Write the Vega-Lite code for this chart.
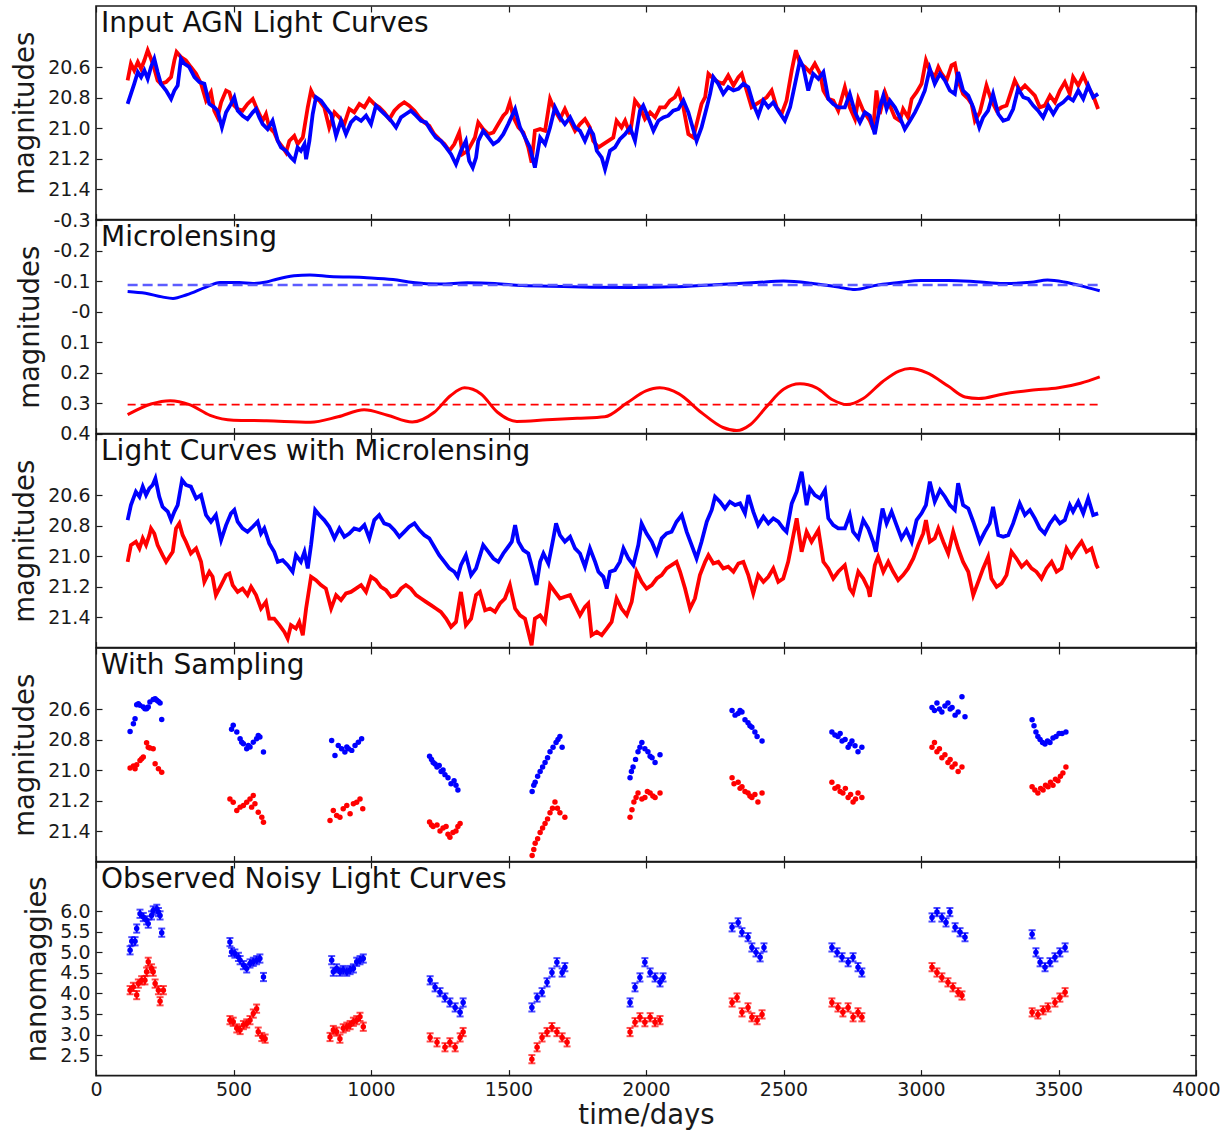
{
  "$schema": "https://vega.github.io/schema/vega-lite/v6.json",
  "background": "white",
  "padding": {"left": 10, "top": 4, "right": 5, "bottom": 5},
  "spacing": 0,
  "bounds": "flush",
  "config": {
    "font": "DejaVu Sans",
    "view": {"stroke": "#1a1a1a", "strokeWidth": 1.6},
    "axis": {
      "grid": false, "domain": false, "tickColor": "#1a1a1a", "tickSize": -6, "tickWidth": 1.2,
      "labelFont": "DejaVu Sans", "labelFontSize": 19, "labelColor": "#1a1a1a",
      "titleFont": "DejaVu Sans", "titleFontSize": 27.5, "titleFontWeight": "normal", "titleColor": "#1a1a1a",
      "labelOverlap": false, "labelFlush": false
    },
    "axisX": {"labelPadding": 11, "titlePadding": 2},
    "axisY": {"labelPadding": 12, "titlePadding": 8}
  },
  "datasets": {
    "agn_red": [
      {"t":115,"mag":20.688},{"t":127,"mag":20.578},{"t":139,"mag":20.622},{"t":152,"mag":20.567},{"t":164,"mag":20.611},{"t":176,"mag":20.556},{"t":188,"mag":20.49},{"t":200,"mag":20.545},{"t":212,"mag":20.611},{"t":224,"mag":20.688},{"t":236,"mag":20.71},{"t":255,"mag":20.699},{"t":273,"mag":20.666},{"t":285,"mag":20.556},{"t":293,"mag":20.501},{"t":309,"mag":20.534},{"t":327,"mag":20.556},{"t":345,"mag":20.6},{"t":364,"mag":20.644},{"t":382,"mag":20.71},{"t":400,"mag":20.82},{"t":418,"mag":20.765},{"t":430,"mag":20.886},{"t":442,"mag":20.93},{"t":455,"mag":20.831},{"t":473,"mag":20.754},{"t":485,"mag":20.765},{"t":497,"mag":20.842},{"t":515,"mag":20.875},{"t":533,"mag":20.886},{"t":551,"mag":20.842},{"t":570,"mag":20.809},{"t":588,"mag":20.886},{"t":606,"mag":20.952},{"t":618,"mag":20.908},{"t":630,"mag":20.996},{"t":648,"mag":21.029},{"t":661,"mag":21.084},{"t":679,"mag":21.127},{"t":691,"mag":21.16},{"t":703,"mag":21.084},{"t":721,"mag":21.051},{"t":733,"mag":21.105},{"t":752,"mag":21.062},{"t":770,"mag":20.864},{"t":782,"mag":20.754},{"t":794,"mag":20.798},{"t":812,"mag":20.82},{"t":830,"mag":20.864},{"t":848,"mag":20.996},{"t":867,"mag":20.897},{"t":885,"mag":20.93},{"t":903,"mag":20.974},{"t":921,"mag":20.875},{"t":939,"mag":20.897},{"t":958,"mag":20.842},{"t":976,"mag":20.864},{"t":994,"mag":20.809},{"t":1012,"mag":20.842},{"t":1030,"mag":20.864},{"t":1048,"mag":20.897},{"t":1067,"mag":20.941},{"t":1085,"mag":20.886},{"t":1103,"mag":20.853},{"t":1121,"mag":20.831},{"t":1139,"mag":20.853},{"t":1158,"mag":20.886},{"t":1176,"mag":20.93},{"t":1194,"mag":20.963},{"t":1212,"mag":20.985},{"t":1230,"mag":21.04},{"t":1248,"mag":21.073},{"t":1267,"mag":21.105},{"t":1285,"mag":21.149},{"t":1303,"mag":21.105},{"t":1321,"mag":21.029},{"t":1333,"mag":21.171},{"t":1352,"mag":21.149},{"t":1378,"mag":21.062},{"t":1390,"mag":20.963},{"t":1408,"mag":21.007},{"t":1427,"mag":21.04},{"t":1445,"mag":21.029},{"t":1463,"mag":20.974},{"t":1481,"mag":20.919},{"t":1493,"mag":20.897},{"t":1505,"mag":20.831},{"t":1518,"mag":20.93},{"t":1536,"mag":20.996},{"t":1554,"mag":21.029},{"t":1572,"mag":21.127},{"t":1584,"mag":21.226},{"t":1596,"mag":21.018},{"t":1615,"mag":21.007},{"t":1633,"mag":21.018},{"t":1651,"mag":20.809},{"t":1669,"mag":20.886},{"t":1687,"mag":20.941},{"t":1705,"mag":20.875},{"t":1724,"mag":20.952},{"t":1742,"mag":21.018},{"t":1760,"mag":20.974},{"t":1778,"mag":20.941},{"t":1796,"mag":20.996},{"t":1808,"mag":21.084},{"t":1827,"mag":21.127},{"t":1845,"mag":21.105},{"t":1863,"mag":21.084},{"t":1881,"mag":21.062},{"t":1893,"mag":20.952},{"t":1911,"mag":20.996},{"t":1924,"mag":20.952},{"t":1942,"mag":21.04},{"t":1960,"mag":20.82},{"t":1978,"mag":20.864},{"t":1996,"mag":20.941},{"t":2015,"mag":20.897},{"t":2033,"mag":20.93},{"t":2051,"mag":20.864},{"t":2069,"mag":20.864},{"t":2087,"mag":20.82},{"t":2105,"mag":20.798},{"t":2118,"mag":20.754},{"t":2136,"mag":20.864},{"t":2154,"mag":21.04},{"t":2172,"mag":21.062},{"t":2184,"mag":20.974},{"t":2202,"mag":20.842},{"t":2215,"mag":20.798},{"t":2227,"mag":20.644},{"t":2245,"mag":20.677},{"t":2263,"mag":20.699},{"t":2281,"mag":20.71},{"t":2299,"mag":20.655},{"t":2318,"mag":20.721},{"t":2336,"mag":20.666},{"t":2348,"mag":20.644},{"t":2366,"mag":20.754},{"t":2384,"mag":20.864},{"t":2402,"mag":20.842},{"t":2421,"mag":20.82},{"t":2439,"mag":20.798},{"t":2457,"mag":20.754},{"t":2475,"mag":20.864},{"t":2493,"mag":20.908},{"t":2511,"mag":20.82},{"t":2530,"mag":20.622},{"t":2545,"mag":20.49},{"t":2560,"mag":20.578},{"t":2578,"mag":20.6},{"t":2596,"mag":20.633},{"t":2614,"mag":20.578},{"t":2633,"mag":20.644},{"t":2645,"mag":20.754},{"t":2663,"mag":20.809},{"t":2681,"mag":20.82},{"t":2699,"mag":20.886},{"t":2723,"mag":20.732},{"t":2741,"mag":20.864},{"t":2760,"mag":20.941},{"t":2772,"mag":20.809},{"t":2790,"mag":20.886},{"t":2814,"mag":20.952},{"t":2826,"mag":21.007},{"t":2838,"mag":20.754},{"t":2850,"mag":20.908},{"t":2869,"mag":20.765},{"t":2887,"mag":20.853},{"t":2905,"mag":20.93},{"t":2923,"mag":20.952},{"t":2935,"mag":20.875},{"t":2953,"mag":20.93},{"t":2966,"mag":20.809},{"t":2984,"mag":20.765},{"t":3002,"mag":20.71},{"t":3018,"mag":20.556},{"t":3032,"mag":20.622},{"t":3050,"mag":20.666},{"t":3063,"mag":20.6},{"t":3075,"mag":20.644},{"t":3093,"mag":20.688},{"t":3111,"mag":20.589},{"t":3123,"mag":20.578},{"t":3135,"mag":20.688},{"t":3153,"mag":20.776},{"t":3172,"mag":20.809},{"t":3184,"mag":20.842},{"t":3196,"mag":20.952},{"t":3214,"mag":20.897},{"t":3238,"mag":20.721},{"t":3256,"mag":20.82},{"t":3275,"mag":20.886},{"t":3293,"mag":20.864},{"t":3311,"mag":20.853},{"t":3323,"mag":20.787},{"t":3341,"mag":20.688},{"t":3360,"mag":20.754},{"t":3378,"mag":20.721},{"t":3396,"mag":20.754},{"t":3414,"mag":20.787},{"t":3432,"mag":20.864},{"t":3450,"mag":20.853},{"t":3469,"mag":20.787},{"t":3487,"mag":20.831},{"t":3505,"mag":20.754},{"t":3523,"mag":20.699},{"t":3541,"mag":20.776},{"t":3553,"mag":20.666},{"t":3572,"mag":20.721},{"t":3590,"mag":20.655},{"t":3608,"mag":20.732},{"t":3626,"mag":20.787},{"t":3644,"mag":20.875}
    ],
    "agn_blue": [
      {"t":115,"mag":20.842},{"t":127,"mag":20.776},{"t":139,"mag":20.71},{"t":152,"mag":20.633},{"t":164,"mag":20.666},{"t":176,"mag":20.622},{"t":188,"mag":20.677},{"t":200,"mag":20.6},{"t":212,"mag":20.545},{"t":224,"mag":20.633},{"t":236,"mag":20.71},{"t":255,"mag":20.754},{"t":273,"mag":20.809},{"t":285,"mag":20.754},{"t":297,"mag":20.721},{"t":309,"mag":20.545},{"t":321,"mag":20.578},{"t":339,"mag":20.6},{"t":358,"mag":20.666},{"t":376,"mag":20.699},{"t":394,"mag":20.71},{"t":412,"mag":20.842},{"t":430,"mag":20.864},{"t":442,"mag":20.886},{"t":458,"mag":20.996},{"t":473,"mag":20.897},{"t":491,"mag":20.842},{"t":503,"mag":20.798},{"t":515,"mag":20.886},{"t":533,"mag":20.919},{"t":551,"mag":20.941},{"t":570,"mag":20.897},{"t":582,"mag":20.875},{"t":594,"mag":20.93},{"t":606,"mag":20.974},{"t":624,"mag":21.007},{"t":642,"mag":20.952},{"t":661,"mag":21.084},{"t":673,"mag":21.127},{"t":691,"mag":21.149},{"t":709,"mag":21.193},{"t":721,"mag":21.215},{"t":733,"mag":21.127},{"t":745,"mag":21.149},{"t":758,"mag":21.105},{"t":764,"mag":21.204},{"t":776,"mag":21.084},{"t":788,"mag":20.908},{"t":800,"mag":20.798},{"t":818,"mag":20.82},{"t":836,"mag":20.864},{"t":855,"mag":20.908},{"t":873,"mag":21.051},{"t":891,"mag":20.952},{"t":909,"mag":21.04},{"t":927,"mag":20.963},{"t":945,"mag":20.93},{"t":964,"mag":20.952},{"t":982,"mag":20.919},{"t":1000,"mag":20.974},{"t":1018,"mag":20.853},{"t":1036,"mag":20.886},{"t":1055,"mag":20.919},{"t":1073,"mag":20.952},{"t":1091,"mag":20.996},{"t":1109,"mag":20.93},{"t":1127,"mag":20.908},{"t":1145,"mag":20.886},{"t":1164,"mag":20.919},{"t":1182,"mag":20.952},{"t":1200,"mag":20.963},{"t":1218,"mag":21.018},{"t":1236,"mag":21.062},{"t":1254,"mag":21.084},{"t":1273,"mag":21.127},{"t":1291,"mag":21.171},{"t":1309,"mag":21.237},{"t":1327,"mag":21.149},{"t":1345,"mag":21.084},{"t":1357,"mag":21.215},{"t":1370,"mag":21.259},{"t":1382,"mag":21.193},{"t":1390,"mag":21.084},{"t":1408,"mag":21.018},{"t":1427,"mag":21.062},{"t":1445,"mag":21.105},{"t":1463,"mag":21.084},{"t":1481,"mag":21.04},{"t":1499,"mag":20.974},{"t":1524,"mag":20.875},{"t":1542,"mag":20.996},{"t":1560,"mag":21.062},{"t":1578,"mag":21.127},{"t":1596,"mag":21.259},{"t":1615,"mag":21.062},{"t":1633,"mag":21.105},{"t":1651,"mag":20.996},{"t":1669,"mag":20.864},{"t":1687,"mag":20.93},{"t":1705,"mag":20.974},{"t":1724,"mag":20.93},{"t":1742,"mag":20.996},{"t":1760,"mag":21.018},{"t":1778,"mag":21.084},{"t":1796,"mag":21.007},{"t":1808,"mag":21.04},{"t":1821,"mag":21.149},{"t":1839,"mag":21.193},{"t":1851,"mag":21.27},{"t":1869,"mag":21.149},{"t":1887,"mag":21.127},{"t":1905,"mag":21.073},{"t":1924,"mag":21.04},{"t":1942,"mag":20.996},{"t":1960,"mag":21.084},{"t":1978,"mag":20.886},{"t":1990,"mag":20.853},{"t":2008,"mag":20.93},{"t":2027,"mag":21.018},{"t":2045,"mag":20.952},{"t":2063,"mag":20.93},{"t":2081,"mag":20.919},{"t":2099,"mag":20.886},{"t":2118,"mag":20.875},{"t":2136,"mag":20.82},{"t":2154,"mag":20.897},{"t":2166,"mag":20.974},{"t":2184,"mag":21.084},{"t":2202,"mag":20.996},{"t":2221,"mag":20.864},{"t":2233,"mag":20.776},{"t":2245,"mag":20.666},{"t":2263,"mag":20.71},{"t":2281,"mag":20.776},{"t":2299,"mag":20.732},{"t":2318,"mag":20.754},{"t":2336,"mag":20.743},{"t":2354,"mag":20.71},{"t":2372,"mag":20.732},{"t":2390,"mag":20.842},{"t":2408,"mag":20.919},{"t":2427,"mag":20.82},{"t":2445,"mag":20.864},{"t":2463,"mag":20.831},{"t":2481,"mag":20.886},{"t":2505,"mag":20.952},{"t":2524,"mag":20.864},{"t":2542,"mag":20.71},{"t":2560,"mag":20.556},{"t":2572,"mag":20.6},{"t":2590,"mag":20.754},{"t":2608,"mag":20.644},{"t":2627,"mag":20.677},{"t":2645,"mag":20.633},{"t":2663,"mag":20.809},{"t":2681,"mag":20.842},{"t":2699,"mag":20.864},{"t":2723,"mag":20.864},{"t":2741,"mag":20.776},{"t":2760,"mag":20.897},{"t":2778,"mag":20.963},{"t":2796,"mag":20.897},{"t":2814,"mag":20.919},{"t":2832,"mag":21.04},{"t":2850,"mag":20.864},{"t":2863,"mag":20.787},{"t":2875,"mag":20.875},{"t":2887,"mag":20.82},{"t":2905,"mag":20.864},{"t":2923,"mag":20.93},{"t":2941,"mag":21.007},{"t":2960,"mag":20.952},{"t":2978,"mag":20.897},{"t":2996,"mag":20.831},{"t":3014,"mag":20.754},{"t":3032,"mag":20.611},{"t":3050,"mag":20.71},{"t":3069,"mag":20.644},{"t":3087,"mag":20.688},{"t":3105,"mag":20.754},{"t":3123,"mag":20.776},{"t":3135,"mag":20.633},{"t":3153,"mag":20.754},{"t":3172,"mag":20.787},{"t":3190,"mag":20.864},{"t":3212,"mag":20.996},{"t":3226,"mag":20.93},{"t":3244,"mag":20.886},{"t":3262,"mag":20.776},{"t":3281,"mag":20.908},{"t":3299,"mag":20.952},{"t":3317,"mag":20.941},{"t":3335,"mag":20.875},{"t":3353,"mag":20.743},{"t":3372,"mag":20.798},{"t":3390,"mag":20.809},{"t":3408,"mag":20.853},{"t":3426,"mag":20.886},{"t":3444,"mag":20.93},{"t":3463,"mag":20.853},{"t":3481,"mag":20.908},{"t":3499,"mag":20.853},{"t":3517,"mag":20.831},{"t":3535,"mag":20.798},{"t":3553,"mag":20.82},{"t":3572,"mag":20.754},{"t":3590,"mag":20.809},{"t":3608,"mag":20.721},{"t":3626,"mag":20.798},{"t":3644,"mag":20.776}
    ],
    "ml_red": [
      {"t":115,"dmag":0.338},{"t":200,"dmag":0.303},{"t":270,"dmag":0.292},{"t":340,"dmag":0.305},{"t":415,"dmag":0.34},{"t":500,"dmag":0.356},{"t":620,"dmag":0.358},{"t":780,"dmag":0.363},{"t":880,"dmag":0.345},{"t":975,"dmag":0.322},{"t":1060,"dmag":0.34},{"t":1150,"dmag":0.362},{"t":1230,"dmag":0.33},{"t":1290,"dmag":0.275},{"t":1340,"dmag":0.25},{"t":1400,"dmag":0.27},{"t":1460,"dmag":0.33},{"t":1530,"dmag":0.36},{"t":1640,"dmag":0.355},{"t":1750,"dmag":0.35},{"t":1850,"dmag":0.345},{"t":1930,"dmag":0.3},{"t":2000,"dmag":0.26},{"t":2050,"dmag":0.25},{"t":2120,"dmag":0.27},{"t":2200,"dmag":0.33},{"t":2280,"dmag":0.38},{"t":2330,"dmag":0.39},{"t":2380,"dmag":0.37},{"t":2440,"dmag":0.31},{"t":2500,"dmag":0.255},{"t":2560,"dmag":0.237},{"t":2620,"dmag":0.25},{"t":2680,"dmag":0.29},{"t":2730,"dmag":0.305},{"t":2790,"dmag":0.285},{"t":2860,"dmag":0.23},{"t":2920,"dmag":0.195},{"t":2960,"dmag":0.187},{"t":3020,"dmag":0.2},{"t":3100,"dmag":0.245},{"t":3160,"dmag":0.28},{"t":3210,"dmag":0.285},{"t":3300,"dmag":0.27},{"t":3400,"dmag":0.258},{"t":3500,"dmag":0.25},{"t":3580,"dmag":0.235},{"t":3650,"dmag":0.214}
    ],
    "ml_blue": [
      {"t":115,"dmag":-0.066},{"t":180,"dmag":-0.06},{"t":240,"dmag":-0.048},{"t":280,"dmag":-0.043},{"t":330,"dmag":-0.055},{"t":400,"dmag":-0.08},{"t":451,"dmag":-0.095},{"t":520,"dmag":-0.095},{"t":571,"dmag":-0.092},{"t":620,"dmag":-0.097},{"t":657,"dmag":-0.106},{"t":720,"dmag":-0.117},{"t":778,"dmag":-0.12},{"t":850,"dmag":-0.115},{"t":985,"dmag":-0.111},{"t":1080,"dmag":-0.105},{"t":1153,"dmag":-0.095},{"t":1250,"dmag":-0.09},{"t":1350,"dmag":-0.094},{"t":1450,"dmag":-0.092},{"t":1550,"dmag":-0.085},{"t":1650,"dmag":-0.083},{"t":1800,"dmag":-0.08},{"t":1950,"dmag":-0.079},{"t":2100,"dmag":-0.081},{"t":2250,"dmag":-0.088},{"t":2400,"dmag":-0.095},{"t":2500,"dmag":-0.1},{"t":2600,"dmag":-0.093},{"t":2700,"dmag":-0.08},{"t":2760,"dmag":-0.072},{"t":2830,"dmag":-0.085},{"t":2920,"dmag":-0.095},{"t":3000,"dmag":-0.102},{"t":3100,"dmag":-0.102},{"t":3200,"dmag":-0.098},{"t":3300,"dmag":-0.092},{"t":3400,"dmag":-0.096},{"t":3460,"dmag":-0.103},{"t":3520,"dmag":-0.097},{"t":3600,"dmag":-0.08},{"t":3650,"dmag":-0.068}
    ],
    "mlc_red": [
      {"t":115,"mag":21.038},{"t":127,"mag":20.928},{"t":145,"mag":20.906},{"t":158,"mag":20.95},{"t":170,"mag":20.884},{"t":182,"mag":20.928},{"t":194,"mag":20.863},{"t":200,"mag":20.819},{"t":212,"mag":20.852},{"t":224,"mag":20.928},{"t":242,"mag":20.994},{"t":255,"mag":21.038},{"t":267,"mag":21.005},{"t":279,"mag":20.972},{"t":291,"mag":20.819},{"t":303,"mag":20.786},{"t":315,"mag":20.863},{"t":327,"mag":20.906},{"t":345,"mag":20.983},{"t":364,"mag":20.95},{"t":382,"mag":21.038},{"t":394,"mag":21.169},{"t":412,"mag":21.103},{"t":424,"mag":21.136},{"t":436,"mag":21.256},{"t":455,"mag":21.19},{"t":473,"mag":21.125},{"t":485,"mag":21.114},{"t":497,"mag":21.19},{"t":515,"mag":21.235},{"t":533,"mag":21.213},{"t":551,"mag":21.256},{"t":564,"mag":21.202},{"t":582,"mag":21.256},{"t":600,"mag":21.344},{"t":618,"mag":21.3},{"t":630,"mag":21.41},{"t":648,"mag":21.41},{"t":667,"mag":21.453},{"t":685,"mag":21.497},{"t":697,"mag":21.541},{"t":709,"mag":21.453},{"t":727,"mag":21.475},{"t":739,"mag":21.432},{"t":752,"mag":21.519},{"t":764,"mag":21.344},{"t":782,"mag":21.136},{"t":800,"mag":21.158},{"t":818,"mag":21.19},{"t":836,"mag":21.213},{"t":855,"mag":21.344},{"t":873,"mag":21.256},{"t":891,"mag":21.289},{"t":909,"mag":21.245},{"t":927,"mag":21.235},{"t":945,"mag":21.213},{"t":964,"mag":21.19},{"t":982,"mag":21.235},{"t":1000,"mag":21.136},{"t":1018,"mag":21.158},{"t":1036,"mag":21.202},{"t":1055,"mag":21.224},{"t":1073,"mag":21.267},{"t":1091,"mag":21.256},{"t":1109,"mag":21.213},{"t":1127,"mag":21.19},{"t":1145,"mag":21.213},{"t":1164,"mag":21.256},{"t":1182,"mag":21.278},{"t":1200,"mag":21.3},{"t":1218,"mag":21.322},{"t":1236,"mag":21.344},{"t":1254,"mag":21.366},{"t":1273,"mag":21.41},{"t":1291,"mag":21.464},{"t":1309,"mag":21.432},{"t":1327,"mag":21.235},{"t":1345,"mag":21.453},{"t":1364,"mag":21.41},{"t":1382,"mag":21.256},{"t":1396,"mag":21.235},{"t":1415,"mag":21.355},{"t":1433,"mag":21.344},{"t":1451,"mag":21.366},{"t":1469,"mag":21.311},{"t":1487,"mag":21.278},{"t":1505,"mag":21.19},{"t":1524,"mag":21.344},{"t":1542,"mag":21.388},{"t":1560,"mag":21.41},{"t":1572,"mag":21.497},{"t":1584,"mag":21.585},{"t":1596,"mag":21.41},{"t":1615,"mag":21.388},{"t":1633,"mag":21.432},{"t":1651,"mag":21.19},{"t":1669,"mag":21.235},{"t":1687,"mag":21.278},{"t":1705,"mag":21.267},{"t":1724,"mag":21.256},{"t":1742,"mag":21.322},{"t":1760,"mag":21.388},{"t":1778,"mag":21.333},{"t":1790,"mag":21.311},{"t":1802,"mag":21.519},{"t":1821,"mag":21.497},{"t":1839,"mag":21.519},{"t":1857,"mag":21.475},{"t":1875,"mag":21.432},{"t":1893,"mag":21.278},{"t":1911,"mag":21.344},{"t":1930,"mag":21.388},{"t":1948,"mag":21.3},{"t":1966,"mag":21.103},{"t":1984,"mag":21.169},{"t":2002,"mag":21.213},{"t":2021,"mag":21.19},{"t":2039,"mag":21.147},{"t":2057,"mag":21.125},{"t":2075,"mag":21.081},{"t":2093,"mag":21.06},{"t":2111,"mag":21.038},{"t":2124,"mag":21.103},{"t":2142,"mag":21.213},{"t":2160,"mag":21.344},{"t":2178,"mag":21.278},{"t":2196,"mag":21.125},{"t":2215,"mag":21.038},{"t":2227,"mag":20.994},{"t":2245,"mag":21.049},{"t":2263,"mag":21.038},{"t":2281,"mag":21.081},{"t":2299,"mag":21.07},{"t":2318,"mag":21.103},{"t":2336,"mag":21.049},{"t":2354,"mag":21.038},{"t":2372,"mag":21.125},{"t":2390,"mag":21.245},{"t":2408,"mag":21.125},{"t":2427,"mag":21.169},{"t":2445,"mag":21.136},{"t":2463,"mag":21.081},{"t":2481,"mag":21.169},{"t":2499,"mag":21.147},{"t":2517,"mag":21.038},{"t":2536,"mag":20.863},{"t":2548,"mag":20.753},{"t":2566,"mag":20.972},{"t":2584,"mag":20.841},{"t":2602,"mag":20.906},{"t":2627,"mag":20.83},{"t":2645,"mag":21.038},{"t":2663,"mag":21.081},{"t":2681,"mag":21.147},{"t":2699,"mag":21.103},{"t":2723,"mag":21.06},{"t":2741,"mag":21.213},{"t":2753,"mag":21.245},{"t":2772,"mag":21.103},{"t":2790,"mag":21.147},{"t":2808,"mag":21.213},{"t":2814,"mag":21.267},{"t":2832,"mag":21.06},{"t":2844,"mag":21.005},{"t":2863,"mag":21.103},{"t":2881,"mag":21.038},{"t":2899,"mag":21.103},{"t":2917,"mag":21.158},{"t":2935,"mag":21.125},{"t":2953,"mag":21.081},{"t":2972,"mag":21.016},{"t":2990,"mag":20.928},{"t":3008,"mag":20.852},{"t":3018,"mag":20.764},{"t":3032,"mag":20.906},{"t":3050,"mag":20.884},{"t":3063,"mag":20.819},{"t":3081,"mag":20.906},{"t":3099,"mag":20.983},{"t":3117,"mag":20.841},{"t":3135,"mag":20.95},{"t":3153,"mag":21.038},{"t":3172,"mag":21.103},{"t":3190,"mag":21.256},{"t":3208,"mag":21.169},{"t":3226,"mag":21.081},{"t":3244,"mag":21.005},{"t":3256,"mag":21.147},{"t":3275,"mag":21.202},{"t":3293,"mag":21.18},{"t":3311,"mag":21.125},{"t":3329,"mag":20.972},{"t":3347,"mag":21.016},{"t":3366,"mag":21.07},{"t":3384,"mag":21.038},{"t":3402,"mag":21.081},{"t":3420,"mag":21.103},{"t":3438,"mag":21.147},{"t":3456,"mag":21.081},{"t":3475,"mag":21.038},{"t":3493,"mag":21.103},{"t":3511,"mag":21.081},{"t":3529,"mag":20.95},{"t":3547,"mag":21.005},{"t":3566,"mag":20.95},{"t":3584,"mag":20.906},{"t":3602,"mag":20.972},{"t":3620,"mag":20.95},{"t":3638,"mag":21.06},{"t":3644,"mag":21.081}
    ],
    "mlc_blue": [
      {"t":115,"mag":20.764},{"t":127,"mag":20.666},{"t":145,"mag":20.578},{"t":158,"mag":20.611},{"t":170,"mag":20.545},{"t":182,"mag":20.6},{"t":194,"mag":20.556},{"t":206,"mag":20.534},{"t":216,"mag":20.491},{"t":230,"mag":20.611},{"t":242,"mag":20.677},{"t":261,"mag":20.709},{"t":273,"mag":20.764},{"t":285,"mag":20.709},{"t":297,"mag":20.666},{"t":313,"mag":20.502},{"t":327,"mag":20.534},{"t":345,"mag":20.545},{"t":364,"mag":20.622},{"t":382,"mag":20.6},{"t":400,"mag":20.731},{"t":418,"mag":20.775},{"t":436,"mag":20.731},{"t":455,"mag":20.895},{"t":473,"mag":20.797},{"t":491,"mag":20.72},{"t":503,"mag":20.698},{"t":515,"mag":20.775},{"t":533,"mag":20.819},{"t":551,"mag":20.841},{"t":570,"mag":20.808},{"t":588,"mag":20.775},{"t":600,"mag":20.852},{"t":612,"mag":20.819},{"t":630,"mag":20.917},{"t":648,"mag":20.972},{"t":661,"mag":21.038},{"t":679,"mag":21.027},{"t":697,"mag":21.06},{"t":715,"mag":21.103},{"t":727,"mag":20.994},{"t":745,"mag":21.038},{"t":758,"mag":20.972},{"t":770,"mag":21.081},{"t":782,"mag":20.928},{"t":797,"mag":20.698},{"t":812,"mag":20.731},{"t":830,"mag":20.764},{"t":848,"mag":20.808},{"t":867,"mag":20.884},{"t":885,"mag":20.819},{"t":903,"mag":20.874},{"t":921,"mag":20.852},{"t":939,"mag":20.819},{"t":958,"mag":20.83},{"t":976,"mag":20.797},{"t":994,"mag":20.884},{"t":1012,"mag":20.764},{"t":1030,"mag":20.731},{"t":1048,"mag":20.786},{"t":1067,"mag":20.797},{"t":1085,"mag":20.83},{"t":1103,"mag":20.874},{"t":1121,"mag":20.841},{"t":1139,"mag":20.808},{"t":1158,"mag":20.786},{"t":1176,"mag":20.83},{"t":1194,"mag":20.863},{"t":1212,"mag":20.884},{"t":1230,"mag":20.939},{"t":1248,"mag":20.994},{"t":1267,"mag":21.038},{"t":1285,"mag":21.081},{"t":1303,"mag":21.103},{"t":1315,"mag":21.136},{"t":1327,"mag":21.06},{"t":1345,"mag":20.994},{"t":1364,"mag":21.125},{"t":1382,"mag":21.081},{"t":1408,"mag":20.928},{"t":1427,"mag":20.972},{"t":1445,"mag":21.016},{"t":1463,"mag":21.038},{"t":1481,"mag":20.983},{"t":1499,"mag":20.939},{"t":1512,"mag":20.906},{"t":1524,"mag":20.797},{"t":1536,"mag":20.906},{"t":1554,"mag":20.961},{"t":1572,"mag":20.983},{"t":1590,"mag":21.103},{"t":1602,"mag":21.19},{"t":1615,"mag":21.038},{"t":1627,"mag":20.983},{"t":1645,"mag":21.049},{"t":1663,"mag":20.884},{"t":1673,"mag":20.786},{"t":1687,"mag":20.863},{"t":1705,"mag":20.906},{"t":1724,"mag":20.874},{"t":1742,"mag":20.95},{"t":1760,"mag":20.983},{"t":1778,"mag":21.07},{"t":1796,"mag":20.95},{"t":1815,"mag":21.038},{"t":1827,"mag":21.103},{"t":1845,"mag":21.136},{"t":1857,"mag":21.213},{"t":1869,"mag":21.103},{"t":1887,"mag":21.092},{"t":1905,"mag":21.038},{"t":1918,"mag":20.95},{"t":1936,"mag":21.016},{"t":1954,"mag":21.06},{"t":1972,"mag":20.928},{"t":1984,"mag":20.786},{"t":2002,"mag":20.852},{"t":2021,"mag":20.906},{"t":2039,"mag":20.983},{"t":2057,"mag":20.884},{"t":2075,"mag":20.852},{"t":2093,"mag":20.841},{"t":2111,"mag":20.775},{"t":2130,"mag":20.731},{"t":2148,"mag":20.841},{"t":2166,"mag":20.928},{"t":2184,"mag":21.016},{"t":2202,"mag":20.906},{"t":2221,"mag":20.775},{"t":2239,"mag":20.698},{"t":2251,"mag":20.611},{"t":2269,"mag":20.644},{"t":2287,"mag":20.688},{"t":2305,"mag":20.644},{"t":2324,"mag":20.666},{"t":2342,"mag":20.655},{"t":2360,"mag":20.72},{"t":2372,"mag":20.6},{"t":2390,"mag":20.709},{"t":2408,"mag":20.797},{"t":2427,"mag":20.742},{"t":2445,"mag":20.786},{"t":2463,"mag":20.753},{"t":2481,"mag":20.775},{"t":2499,"mag":20.819},{"t":2511,"mag":20.841},{"t":2530,"mag":20.655},{"t":2548,"mag":20.578},{"t":2566,"mag":20.447},{"t":2584,"mag":20.666},{"t":2596,"mag":20.556},{"t":2614,"mag":20.6},{"t":2633,"mag":20.622},{"t":2651,"mag":20.567},{"t":2663,"mag":20.753},{"t":2681,"mag":20.797},{"t":2699,"mag":20.819},{"t":2723,"mag":20.819},{"t":2741,"mag":20.731},{"t":2753,"mag":20.841},{"t":2772,"mag":20.884},{"t":2790,"mag":20.764},{"t":2808,"mag":20.819},{"t":2826,"mag":20.906},{"t":2836,"mag":20.972},{"t":2850,"mag":20.797},{"t":2860,"mag":20.688},{"t":2875,"mag":20.786},{"t":2893,"mag":20.709},{"t":2911,"mag":20.797},{"t":2929,"mag":20.884},{"t":2947,"mag":20.83},{"t":2966,"mag":20.906},{"t":2984,"mag":20.764},{"t":3002,"mag":20.72},{"t":3018,"mag":20.666},{"t":3032,"mag":20.512},{"t":3050,"mag":20.644},{"t":3069,"mag":20.567},{"t":3087,"mag":20.611},{"t":3105,"mag":20.666},{"t":3123,"mag":20.698},{"t":3135,"mag":20.523},{"t":3153,"mag":20.666},{"t":3172,"mag":20.688},{"t":3190,"mag":20.775},{"t":3214,"mag":20.906},{"t":3232,"mag":20.841},{"t":3250,"mag":20.786},{"t":3262,"mag":20.677},{"t":3281,"mag":20.863},{"t":3299,"mag":20.874},{"t":3317,"mag":20.863},{"t":3335,"mag":20.786},{"t":3359,"mag":20.655},{"t":3378,"mag":20.731},{"t":3396,"mag":20.698},{"t":3414,"mag":20.753},{"t":3432,"mag":20.819},{"t":3450,"mag":20.852},{"t":3469,"mag":20.786},{"t":3487,"mag":20.742},{"t":3505,"mag":20.786},{"t":3523,"mag":20.764},{"t":3541,"mag":20.666},{"t":3553,"mag":20.709},{"t":3572,"mag":20.644},{"t":3590,"mag":20.72},{"t":3608,"mag":20.622},{"t":3626,"mag":20.731},{"t":3644,"mag":20.72}
    ],
    "samp_red": [
      {"t":124,"mag":20.987},{"t":136,"mag":20.974},{"t":142,"mag":20.992},{"t":148,"mag":20.965},{"t":160,"mag":20.937},{"t":166,"mag":20.926},{"t":172,"mag":20.915},{"t":184,"mag":20.821},{"t":190,"mag":20.85},{"t":196,"mag":20.856},{"t":208,"mag":20.86},{"t":215,"mag":20.959},{"t":227,"mag":20.992},{"t":239,"mag":21.014},
      {"t":487,"mag":21.189},{"t":499,"mag":21.211},{"t":512,"mag":21.265},{"t":524,"mag":21.243},{"t":536,"mag":21.232},{"t":548,"mag":21.211},{"t":560,"mag":21.189},{"t":566,"mag":21.243},{"t":572,"mag":21.167},{"t":578,"mag":21.221},{"t":590,"mag":21.276},{"t":603,"mag":21.309},{"t":609,"mag":21.342},
      {"t":851,"mag":21.331},{"t":863,"mag":21.265},{"t":875,"mag":21.298},{"t":887,"mag":21.309},{"t":899,"mag":21.254},{"t":912,"mag":21.232},{"t":924,"mag":21.287},{"t":936,"mag":21.221},{"t":948,"mag":21.211},{"t":960,"mag":21.189},{"t":970,"mag":21.254},
      {"t":1213,"mag":21.34},{"t":1220,"mag":21.36},{"t":1226,"mag":21.37},{"t":1240,"mag":21.36},{"t":1251,"mag":21.4},{"t":1262,"mag":21.38},{"t":1273,"mag":21.37},{"t":1280,"mag":21.42},{"t":1287,"mag":21.44},{"t":1298,"mag":21.41},{"t":1309,"mag":21.4},{"t":1316,"mag":21.37},{"t":1324,"mag":21.35},
      {"t":1586,"mag":21.56},{"t":1592,"mag":21.52},{"t":1597,"mag":21.48},{"t":1606,"mag":21.45},{"t":1615,"mag":21.41},{"t":1624,"mag":21.38},{"t":1633,"mag":21.35},{"t":1642,"mag":21.32},{"t":1651,"mag":21.28},{"t":1660,"mag":21.25},{"t":1669,"mag":21.21},{"t":1678,"mag":21.25},{"t":1687,"mag":21.28},{"t":1705,"mag":21.31},
      {"t":1942,"mag":21.31},{"t":1949,"mag":21.26},{"t":1956,"mag":21.21},{"t":1964,"mag":21.18},{"t":1971,"mag":21.15},{"t":1985,"mag":21.19},{"t":1996,"mag":21.18},{"t":2005,"mag":21.14},{"t":2015,"mag":21.15},{"t":2025,"mag":21.17},{"t":2033,"mag":21.18},{"t":2051,"mag":21.15},
      {"t":2313,"mag":21.05},{"t":2320,"mag":21.09},{"t":2335,"mag":21.08},{"t":2342,"mag":21.12},{"t":2349,"mag":21.11},{"t":2360,"mag":21.14},{"t":2371,"mag":21.15},{"t":2378,"mag":21.17},{"t":2385,"mag":21.18},{"t":2396,"mag":21.16},{"t":2407,"mag":21.21},{"t":2422,"mag":21.15},
      {"t":2676,"mag":21.08},{"t":2687,"mag":21.12},{"t":2698,"mag":21.11},{"t":2706,"mag":21.14},{"t":2716,"mag":21.15},{"t":2725,"mag":21.12},{"t":2735,"mag":21.18},{"t":2744,"mag":21.16},{"t":2753,"mag":21.21},{"t":2762,"mag":21.19},{"t":2771,"mag":21.15},{"t":2785,"mag":21.18},
      {"t":3040,"mag":20.85},{"t":3049,"mag":20.82},{"t":3058,"mag":20.88},{"t":3067,"mag":20.86},{"t":3076,"mag":20.92},{"t":3087,"mag":20.9},{"t":3098,"mag":20.95},{"t":3106,"mag":20.93},{"t":3113,"mag":20.98},{"t":3124,"mag":20.96},{"t":3135,"mag":21.01},{"t":3149,"mag":20.98},
      {"t":3404,"mag":21.11},{"t":3414,"mag":21.13},{"t":3425,"mag":21.15},{"t":3435,"mag":21.12},{"t":3444,"mag":21.13},{"t":3453,"mag":21.1},{"t":3462,"mag":21.11},{"t":3471,"mag":21.08},{"t":3480,"mag":21.1},{"t":3489,"mag":21.06},{"t":3498,"mag":21.07},{"t":3507,"mag":21.04},{"t":3516,"mag":21.02},{"t":3527,"mag":20.98}
    ],
    "samp_blue": [
      {"t":124,"mag":20.747},{"t":136,"mag":20.696},{"t":142,"mag":20.663},{"t":148,"mag":20.572},{"t":154,"mag":20.565},{"t":160,"mag":20.576},{"t":172,"mag":20.587},{"t":178,"mag":20.598},{"t":184,"mag":20.598},{"t":190,"mag":20.587},{"t":196,"mag":20.554},{"t":208,"mag":20.537},{"t":215,"mag":20.532},{"t":221,"mag":20.543},{"t":227,"mag":20.55},{"t":233,"mag":20.561},{"t":239,"mag":20.668},
      {"t":493,"mag":20.733},{"t":499,"mag":20.707},{"t":512,"mag":20.751},{"t":524,"mag":20.795},{"t":530,"mag":20.817},{"t":536,"mag":20.828},{"t":548,"mag":20.86},{"t":554,"mag":20.839},{"t":560,"mag":20.849},{"t":572,"mag":20.817},{"t":584,"mag":20.795},{"t":590,"mag":20.773},{"t":596,"mag":20.784},{"t":609,"mag":20.882},
      {"t":857,"mag":20.806},{"t":869,"mag":20.904},{"t":881,"mag":20.839},{"t":893,"mag":20.86},{"t":905,"mag":20.882},{"t":912,"mag":20.849},{"t":918,"mag":20.86},{"t":930,"mag":20.871},{"t":942,"mag":20.839},{"t":954,"mag":20.817},{"t":966,"mag":20.795},
      {"t":1213,"mag":20.91},{"t":1220,"mag":20.93},{"t":1226,"mag":20.95},{"t":1233,"mag":20.96},{"t":1240,"mag":20.98},{"t":1248,"mag":20.97},{"t":1255,"mag":21.01},{"t":1262,"mag":21.0},{"t":1269,"mag":21.03},{"t":1280,"mag":21.05},{"t":1291,"mag":21.09},{"t":1302,"mag":21.07},{"t":1309,"mag":21.1},{"t":1316,"mag":21.13},
      {"t":1586,"mag":21.14},{"t":1592,"mag":21.1},{"t":1597,"mag":21.08},{"t":1606,"mag":21.04},{"t":1615,"mag":21.01},{"t":1624,"mag":20.98},{"t":1633,"mag":20.95},{"t":1642,"mag":20.92},{"t":1651,"mag":20.88},{"t":1662,"mag":20.85},{"t":1673,"mag":20.82},{"t":1680,"mag":20.8},{"t":1687,"mag":20.78},{"t":1695,"mag":20.85},
      {"t":1942,"mag":21.05},{"t":1947,"mag":21.01},{"t":1953,"mag":20.98},{"t":1962,"mag":20.93},{"t":1971,"mag":20.88},{"t":1978,"mag":20.85},{"t":1985,"mag":20.82},{"t":1996,"mag":20.86},{"t":2007,"mag":20.88},{"t":2015,"mag":20.91},{"t":2022,"mag":20.92},{"t":2033,"mag":20.95},{"t":2051,"mag":20.9},
      {"t":2313,"mag":20.61},{"t":2324,"mag":20.64},{"t":2335,"mag":20.63},{"t":2342,"mag":20.61},{"t":2349,"mag":20.62},{"t":2360,"mag":20.67},{"t":2371,"mag":20.69},{"t":2378,"mag":20.71},{"t":2385,"mag":20.72},{"t":2396,"mag":20.75},{"t":2404,"mag":20.78},{"t":2422,"mag":20.81},
      {"t":2676,"mag":20.75},{"t":2687,"mag":20.77},{"t":2698,"mag":20.78},{"t":2706,"mag":20.76},{"t":2713,"mag":20.81},{"t":2724,"mag":20.8},{"t":2735,"mag":20.85},{"t":2742,"mag":20.83},{"t":2749,"mag":20.81},{"t":2760,"mag":20.84},{"t":2771,"mag":20.88},{"t":2785,"mag":20.85},
      {"t":3040,"mag":20.59},{"t":3049,"mag":20.61},{"t":3058,"mag":20.56},{"t":3067,"mag":20.6},{"t":3076,"mag":20.62},{"t":3087,"mag":20.58},{"t":3098,"mag":20.56},{"t":3106,"mag":20.6},{"t":3113,"mag":20.59},{"t":3124,"mag":20.64},{"t":3135,"mag":20.62},{"t":3149,"mag":20.52},{"t":3160,"mag":20.65},
      {"t":3404,"mag":20.67},{"t":3411,"mag":20.71},{"t":3418,"mag":20.75},{"t":3425,"mag":20.78},{"t":3433,"mag":20.8},{"t":3442,"mag":20.82},{"t":3451,"mag":20.83},{"t":3460,"mag":20.81},{"t":3469,"mag":20.82},{"t":3480,"mag":20.79},{"t":3491,"mag":20.78},{"t":3502,"mag":20.76},{"t":3513,"mag":20.76},{"t":3527,"mag":20.75}
    ],
    "obs_red": [
      {"t":124,"flux":4.08,"err":0.1},{"t":136,"flux":4.16,"err":0.1},{"t":148,"flux":3.96,"err":0.1},{"t":154,"flux":4.24,"err":0.1},{"t":166,"flux":4.32,"err":0.1},{"t":178,"flux":4.32,"err":0.1},{"t":184,"flux":4.53,"err":0.1},{"t":190,"flux":4.77,"err":0.1},{"t":202,"flux":4.61,"err":0.1},{"t":208,"flux":4.53,"err":0.1},{"t":215,"flux":4.24,"err":0.1},{"t":227,"flux":4.08,"err":0.1},{"t":233,"flux":3.81,"err":0.1},{"t":245,"flux":4.08,"err":0.1},
      {"t":487,"flux":3.35,"err":0.1},{"t":499,"flux":3.31,"err":0.1},{"t":512,"flux":3.15,"err":0.1},{"t":524,"flux":3.11,"err":0.1},{"t":536,"flux":3.23,"err":0.1},{"t":548,"flux":3.27,"err":0.1},{"t":560,"flux":3.35,"err":0.1},{"t":572,"flux":3.51,"err":0.1},{"t":584,"flux":3.63,"err":0.1},{"t":590,"flux":3.07,"err":0.1},{"t":603,"flux":2.94,"err":0.1},{"t":615,"flux":2.9,"err":0.1},
      {"t":851,"flux":2.94,"err":0.1},{"t":863,"flux":3.11,"err":0.1},{"t":875,"flux":3.07,"err":0.1},{"t":887,"flux":2.9,"err":0.1},{"t":899,"flux":3.15,"err":0.1},{"t":912,"flux":3.19,"err":0.1},{"t":924,"flux":3.23,"err":0.1},{"t":936,"flux":3.31,"err":0.1},{"t":948,"flux":3.35,"err":0.1},{"t":960,"flux":3.43,"err":0.1},{"t":972,"flux":3.19,"err":0.1},
      {"t":1215,"flux":2.93,"err":0.1},{"t":1240,"flux":2.81,"err":0.1},{"t":1269,"flux":2.69,"err":0.1},{"t":1287,"flux":2.81,"err":0.1},{"t":1306,"flux":2.69,"err":0.1},{"t":1324,"flux":2.93,"err":0.1},{"t":1335,"flux":3.06,"err":0.1},
      {"t":1585,"flux":2.4,"err":0.1},{"t":1604,"flux":2.69,"err":0.1},{"t":1622,"flux":2.93,"err":0.1},{"t":1640,"flux":3.06,"err":0.1},{"t":1658,"flux":3.18,"err":0.1},{"t":1676,"flux":3.06,"err":0.1},{"t":1695,"flux":2.93,"err":0.1},{"t":1713,"flux":2.81,"err":0.1},
      {"t":1942,"flux":3.06,"err":0.1},{"t":1960,"flux":3.3,"err":0.1},{"t":1978,"flux":3.42,"err":0.1},{"t":1996,"flux":3.3,"err":0.1},{"t":2015,"flux":3.42,"err":0.1},{"t":2033,"flux":3.3,"err":0.1},{"t":2051,"flux":3.35,"err":0.1},
      {"t":2313,"flux":3.78,"err":0.1},{"t":2331,"flux":3.9,"err":0.1},{"t":2349,"flux":3.54,"err":0.1},{"t":2371,"flux":3.66,"err":0.1},{"t":2385,"flux":3.42,"err":0.1},{"t":2404,"flux":3.35,"err":0.1},{"t":2422,"flux":3.49,"err":0.1},
      {"t":2676,"flux":3.78,"err":0.1},{"t":2698,"flux":3.66,"err":0.1},{"t":2716,"flux":3.54,"err":0.1},{"t":2735,"flux":3.66,"err":0.1},{"t":2753,"flux":3.42,"err":0.1},{"t":2771,"flux":3.54,"err":0.1},{"t":2785,"flux":3.42,"err":0.1},
      {"t":3040,"flux":4.64,"err":0.1},{"t":3058,"flux":4.51,"err":0.1},{"t":3076,"flux":4.39,"err":0.1},{"t":3098,"flux":4.27,"err":0.1},{"t":3116,"flux":4.15,"err":0.1},{"t":3135,"flux":4.03,"err":0.1},{"t":3149,"flux":3.95,"err":0.1},
      {"t":3404,"flux":3.54,"err":0.1},{"t":3425,"flux":3.49,"err":0.1},{"t":3444,"flux":3.59,"err":0.1},{"t":3462,"flux":3.66,"err":0.1},{"t":3487,"flux":3.78,"err":0.1},{"t":3505,"flux":3.9,"err":0.1},{"t":3524,"flux":4.03,"err":0.1}
    ],
    "obs_blue": [
      {"t":124,"flux":5.05,"err":0.1},{"t":130,"flux":5.27,"err":0.1},{"t":142,"flux":5.27,"err":0.1},{"t":148,"flux":5.58,"err":0.1},{"t":160,"flux":5.94,"err":0.1},{"t":172,"flux":5.86,"err":0.1},{"t":184,"flux":5.78,"err":0.1},{"t":190,"flux":5.7,"err":0.1},{"t":202,"flux":5.9,"err":0.1},{"t":208,"flux":6.02,"err":0.1},{"t":221,"flux":6.06,"err":0.1},{"t":227,"flux":5.98,"err":0.1},{"t":233,"flux":5.9,"err":0.1},{"t":239,"flux":5.48,"err":0.1},
      {"t":487,"flux":5.25,"err":0.1},{"t":493,"flux":5.01,"err":0.1},{"t":505,"flux":4.97,"err":0.1},{"t":518,"flux":4.89,"err":0.1},{"t":524,"flux":4.81,"err":0.1},{"t":536,"flux":4.69,"err":0.1},{"t":548,"flux":4.61,"err":0.1},{"t":560,"flux":4.73,"err":0.1},{"t":572,"flux":4.77,"err":0.1},{"t":584,"flux":4.81,"err":0.1},{"t":596,"flux":4.85,"err":0.1},{"t":609,"flux":4.4,"err":0.1},
      {"t":857,"flux":4.81,"err":0.1},{"t":863,"flux":4.53,"err":0.1},{"t":875,"flux":4.61,"err":0.1},{"t":887,"flux":4.53,"err":0.1},{"t":899,"flux":4.57,"err":0.1},{"t":912,"flux":4.53,"err":0.1},{"t":924,"flux":4.57,"err":0.1},{"t":936,"flux":4.61,"err":0.1},{"t":948,"flux":4.77,"err":0.1},{"t":960,"flux":4.81,"err":0.1},{"t":972,"flux":4.85,"err":0.1},
      {"t":1215,"flux":4.32,"err":0.1},{"t":1233,"flux":4.15,"err":0.1},{"t":1251,"flux":4.03,"err":0.1},{"t":1269,"flux":3.9,"err":0.1},{"t":1287,"flux":3.78,"err":0.1},{"t":1306,"flux":3.66,"err":0.1},{"t":1324,"flux":3.54,"err":0.1},{"t":1335,"flux":3.78,"err":0.1},
      {"t":1585,"flux":3.66,"err":0.1},{"t":1604,"flux":3.9,"err":0.1},{"t":1622,"flux":4.03,"err":0.1},{"t":1640,"flux":4.27,"err":0.1},{"t":1658,"flux":4.51,"err":0.1},{"t":1676,"flux":4.76,"err":0.1},{"t":1695,"flux":4.51,"err":0.1},{"t":1705,"flux":4.64,"err":0.1},
      {"t":1942,"flux":3.78,"err":0.1},{"t":1960,"flux":4.15,"err":0.1},{"t":1978,"flux":4.39,"err":0.1},{"t":1996,"flux":4.76,"err":0.1},{"t":2015,"flux":4.51,"err":0.1},{"t":2033,"flux":4.39,"err":0.1},{"t":2051,"flux":4.27,"err":0.1},{"t":2062,"flux":4.39,"err":0.1},
      {"t":2313,"flux":5.61,"err":0.1},{"t":2335,"flux":5.73,"err":0.1},{"t":2349,"flux":5.49,"err":0.1},{"t":2371,"flux":5.37,"err":0.1},{"t":2385,"flux":5.12,"err":0.1},{"t":2400,"flux":5.0,"err":0.1},{"t":2415,"flux":4.88,"err":0.1},{"t":2429,"flux":5.12,"err":0.1},
      {"t":2676,"flux":5.12,"err":0.1},{"t":2695,"flux":5.0,"err":0.1},{"t":2713,"flux":4.88,"err":0.1},{"t":2735,"flux":4.76,"err":0.1},{"t":2753,"flux":4.88,"err":0.1},{"t":2771,"flux":4.64,"err":0.1},{"t":2785,"flux":4.51,"err":0.1},
      {"t":3040,"flux":5.85,"err":0.1},{"t":3058,"flux":5.98,"err":0.1},{"t":3076,"flux":5.85,"err":0.1},{"t":3091,"flux":5.73,"err":0.1},{"t":3105,"flux":5.98,"err":0.1},{"t":3124,"flux":5.61,"err":0.1},{"t":3142,"flux":5.49,"err":0.1},{"t":3160,"flux":5.37,"err":0.1},
      {"t":3404,"flux":5.44,"err":0.1},{"t":3418,"flux":5.0,"err":0.1},{"t":3433,"flux":4.76,"err":0.1},{"t":3451,"flux":4.64,"err":0.1},{"t":3469,"flux":4.76,"err":0.1},{"t":3487,"flux":4.88,"err":0.1},{"t":3505,"flux":5.0,"err":0.1},{"t":3524,"flux":5.12,"err":0.1}
    ]
  },
  "vconcat": [
    {
      "width": 1100, "height": 213.6,
      "resolve": {"axis": {"x": "independent", "y": "independent"}},
      "layer": [
        {
          "data": {"name": "agn_red"},
          "mark": {"type": "line", "color": "#ff0000", "strokeWidth": 3.8, "clip": true},
          "encoding": {
            "x": {"field": "t", "type": "quantitative", "scale": {"domain": [0, 4000], "nice": false, "zero": false},
                  "axis": {"orient": "bottom", "values": [0,500,1000,1500,2000,2500,3000,3500,4000], "labels": false, "title": null}},
            "y": {"field": "mag", "type": "quantitative", "scale": {"domain": [20.2, 21.6], "reverse": true, "nice": false, "zero": false},
                  "axis": {"orient": "left", "values": [20.6,20.8,21.0,21.2,21.4], "format": ".1f", "title": "magnitudes"}}
          }
        },
        {
          "data": {"name": "agn_blue"},
          "mark": {"type": "line", "color": "#0000ff", "strokeWidth": 3.8, "clip": true},
          "encoding": {
            "x": {"field": "t", "type": "quantitative", "axis": {"orient": "top", "values": [0,500,1000,1500,2000,2500,3000,3500,4000], "labels": false, "title": null}},
            "y": {"field": "mag", "type": "quantitative", "axis": {"orient": "right", "values": [20.6,20.8,21.0,21.2,21.4], "labels": false, "title": null}}
          }
        },
        {
          "data": {"values": [{}]},
          "mark": {"type": "text", "text": "Input AGN Light Curves", "align": "left", "baseline": "alphabetic", "dx": 5, "dy": 26, "fontSize": 28, "font": "DejaVu Sans", "color": "#111111"},
          "encoding": {"x": {"datum": 0, "type": "quantitative", "axis": null}, "y": {"datum": 20.2, "type": "quantitative", "axis": null}}
        }
      ]
    },
    {
      "width": 1100, "height": 213.6,
      "resolve": {"axis": {"x": "independent", "y": "independent"}},
      "layer": [
        {
          "data": {"name": "ml_red"},
          "mark": {"type": "line", "color": "#ff0000", "strokeWidth": 3, "interpolate": "monotone", "clip": true},
          "encoding": {
            "x": {"field": "t", "type": "quantitative", "scale": {"domain": [0, 4000], "nice": false, "zero": false},
                  "axis": {"orient": "bottom", "values": [0,500,1000,1500,2000,2500,3000,3500,4000], "labels": false, "title": null}},
            "y": {"field": "dmag", "type": "quantitative", "scale": {"domain": [-0.3, 0.4], "reverse": true, "nice": false, "zero": false},
                  "axis": {"orient": "left", "values": [-0.3,-0.2,-0.1,0,0.1,0.2,0.3,0.4], "labelExpr": "datum.value === 0 ? '-0' : replace(format(datum.value, '.1f'), '\u2212', '-')", "title": "magnitudes"}}
          }
        },
        {
          "data": {"name": "ml_blue"},
          "mark": {"type": "line", "color": "#0000ff", "strokeWidth": 3, "interpolate": "monotone", "clip": true},
          "encoding": {
            "x": {"field": "t", "type": "quantitative", "axis": {"orient": "top", "values": [0,500,1000,1500,2000,2500,3000,3500,4000], "labels": false, "title": null}},
            "y": {"field": "dmag", "type": "quantitative", "axis": {"orient": "right", "values": [-0.3,-0.2,-0.1,0,0.1,0.2,0.3,0.4], "labels": false, "title": null}}
          }
        },
        {
          "data": {"values": [{"t0": 115, "t1": 3650, "level": 0.305}]},
          "mark": {"type": "rule", "color": "#ff0000", "strokeWidth": 1.6, "strokeDash": [8, 5]},
          "encoding": {"x": {"field": "t0", "type": "quantitative", "axis": null}, "x2": {"field": "t1"}, "y": {"field": "level", "type": "quantitative", "axis": null}}
        },
        {
          "data": {"values": [{"t0": 115, "t1": 3650, "level": -0.087}]},
          "mark": {"type": "rule", "color": "#5c5cff", "strokeWidth": 2.4, "strokeDash": [10, 5]},
          "encoding": {"x": {"field": "t0", "type": "quantitative", "axis": null}, "x2": {"field": "t1"}, "y": {"field": "level", "type": "quantitative", "axis": null}}
        },
        {
          "data": {"values": [{}]},
          "mark": {"type": "text", "text": "Microlensing", "align": "left", "baseline": "alphabetic", "dx": 5, "dy": 25.5, "fontSize": 28, "font": "DejaVu Sans", "color": "#111111"},
          "encoding": {"x": {"datum": 0, "type": "quantitative", "axis": null}, "y": {"datum": -0.3, "type": "quantitative", "axis": null}}
        }
      ]
    },
    {
      "width": 1100, "height": 213.6,
      "resolve": {"axis": {"x": "independent", "y": "independent"}},
      "layer": [
        {
          "data": {"name": "mlc_red"},
          "mark": {"type": "line", "color": "#ff0000", "strokeWidth": 3.8, "clip": true},
          "encoding": {
            "x": {"field": "t", "type": "quantitative", "scale": {"domain": [0, 4000], "nice": false, "zero": false},
                  "axis": {"orient": "bottom", "values": [0,500,1000,1500,2000,2500,3000,3500,4000], "labels": false, "title": null}},
            "y": {"field": "mag", "type": "quantitative", "scale": {"domain": [20.2, 21.6], "reverse": true, "nice": false, "zero": false},
                  "axis": {"orient": "left", "values": [20.6,20.8,21.0,21.2,21.4], "format": ".1f", "title": "magnitudes"}}
          }
        },
        {
          "data": {"name": "mlc_blue"},
          "mark": {"type": "line", "color": "#0000ff", "strokeWidth": 3.8, "clip": true},
          "encoding": {
            "x": {"field": "t", "type": "quantitative", "axis": {"orient": "top", "values": [0,500,1000,1500,2000,2500,3000,3500,4000], "labels": false, "title": null}},
            "y": {"field": "mag", "type": "quantitative", "axis": {"orient": "right", "values": [20.6,20.8,21.0,21.2,21.4], "labels": false, "title": null}}
          }
        },
        {
          "data": {"values": [{}]},
          "mark": {"type": "text", "text": "Light Curves with Microlensing", "align": "left", "baseline": "alphabetic", "dx": 5, "dy": 25.5, "fontSize": 28, "font": "DejaVu Sans", "color": "#111111"},
          "encoding": {"x": {"datum": 0, "type": "quantitative", "axis": null}, "y": {"datum": 20.2, "type": "quantitative", "axis": null}}
        }
      ]
    },
    {
      "width": 1100, "height": 213.6,
      "resolve": {"axis": {"x": "independent", "y": "independent"}},
      "layer": [
        {
          "data": {"name": "samp_red"},
          "mark": {"type": "point", "filled": true, "color": "#ff0000", "size": 30, "opacity": 1, "clip": true},
          "encoding": {
            "x": {"field": "t", "type": "quantitative", "scale": {"domain": [0, 4000], "nice": false, "zero": false},
                  "axis": {"orient": "bottom", "values": [0,500,1000,1500,2000,2500,3000,3500,4000], "labels": false, "title": null}},
            "y": {"field": "mag", "type": "quantitative", "scale": {"domain": [20.2, 21.6], "reverse": true, "nice": false, "zero": false},
                  "axis": {"orient": "left", "values": [20.6,20.8,21.0,21.2,21.4], "format": ".1f", "title": "magnitudes"}}
          }
        },
        {
          "data": {"name": "samp_blue"},
          "mark": {"type": "point", "filled": true, "color": "#0000ff", "size": 30, "opacity": 1, "clip": true},
          "encoding": {
            "x": {"field": "t", "type": "quantitative", "axis": {"orient": "top", "values": [0,500,1000,1500,2000,2500,3000,3500,4000], "labels": false, "title": null}},
            "y": {"field": "mag", "type": "quantitative", "axis": {"orient": "right", "values": [20.6,20.8,21.0,21.2,21.4], "labels": false, "title": null}}
          }
        },
        {
          "data": {"values": [{}]},
          "mark": {"type": "text", "text": "With Sampling", "align": "left", "baseline": "alphabetic", "dx": 5, "dy": 25.5, "fontSize": 28, "font": "DejaVu Sans", "color": "#111111"},
          "encoding": {"x": {"datum": 0, "type": "quantitative", "axis": null}, "y": {"datum": 20.2, "type": "quantitative", "axis": null}}
        }
      ]
    },
    {
      "width": 1100, "height": 213.6,
      "resolve": {"axis": {"x": "independent", "y": "independent"}},
      "layer": [
        {
          "data": {"name": "obs_red"},
          "mark": {"type": "errorbar", "color": "#ff0000", "thickness": 2, "ticks": {"size": 7, "thickness": 2}},
          "encoding": {
            "x": {"field": "t", "type": "quantitative", "scale": {"domain": [0, 4000], "nice": false, "zero": false},
                  "axis": {"orient": "bottom", "values": [0,500,1000,1500,2000,2500,3000,3500,4000], "format": "d", "title": "time/days"}},
            "y": {"field": "flux", "type": "quantitative", "scale": {"domain": [2.0, 7.2], "nice": false, "zero": false},
                  "axis": {"orient": "left", "values": [2.5,3.0,3.5,4.0,4.5,5.0,5.5,6.0], "format": ".1f", "title": "nanomaggies"}},
            "yError": {"field": "err"}
          }
        },
        {
          "data": {"name": "obs_red"},
          "mark": {"type": "point", "filled": true, "color": "#ff0000", "size": 30, "opacity": 1},
          "encoding": {"x": {"field": "t", "type": "quantitative", "axis": null}, "y": {"field": "flux", "type": "quantitative", "axis": null}}
        },
        {
          "data": {"name": "obs_blue"},
          "mark": {"type": "errorbar", "color": "#0000ff", "thickness": 2, "ticks": {"size": 7, "thickness": 2}},
          "encoding": {
            "x": {"field": "t", "type": "quantitative", "axis": {"orient": "top", "values": [0,500,1000,1500,2000,2500,3000,3500,4000], "labels": false, "title": null}},
            "y": {"field": "flux", "type": "quantitative", "axis": {"orient": "right", "values": [2.5,3.0,3.5,4.0,4.5,5.0,5.5,6.0], "labels": false, "title": null}},
            "yError": {"field": "err"}
          }
        },
        {
          "data": {"name": "obs_blue"},
          "mark": {"type": "point", "filled": true, "color": "#0000ff", "size": 30, "opacity": 1},
          "encoding": {"x": {"field": "t", "type": "quantitative", "axis": null}, "y": {"field": "flux", "type": "quantitative", "axis": null}}
        },
        {
          "data": {"values": [{}]},
          "mark": {"type": "text", "text": "Observed Noisy Light Curves", "align": "left", "baseline": "alphabetic", "dx": 5, "dy": 25.5, "fontSize": 28, "font": "DejaVu Sans", "color": "#111111"},
          "encoding": {"x": {"datum": 0, "type": "quantitative", "axis": null}, "y": {"datum": 7.2, "type": "quantitative", "axis": null}}
        }
      ]
    }
  ]
}
